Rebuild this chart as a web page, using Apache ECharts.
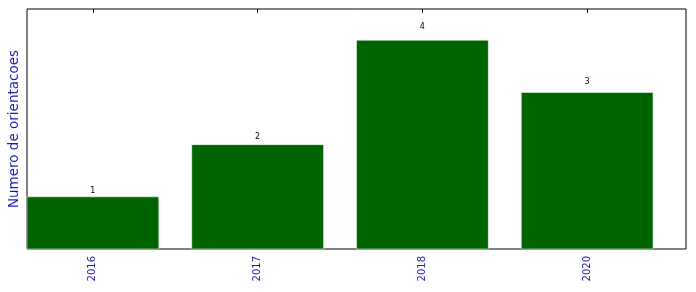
<!DOCTYPE html>
<html><head><meta charset="utf-8">
<script src="https://cdn.jsdelivr.net/npm/echarts@6/dist/echarts.min.js"></script>
<style>html,body{margin:0;padding:0;background:#fff}#c{width:696px;height:292px}</style>
</head><body><div id="c"></div>
<script>
var categories = ['2016', '2017', '2018', '2020'];
var values = [1, 2, 4, 3];
var tickPositions = [0.4, 1.4, 2.4, 3.4];

var chart = echarts.init(document.getElementById('c'), null, {renderer: 'canvas'});
var data = values.map(function (v, i) { return [i, v]; });
var font = 'DejaVu Sans';
chart.setOption({
  animation: false,
  grid: {left: 27, right: 10, top: 9, bottom: 43, show: true, borderColor: '#000', borderWidth: 1,
    containLabel: false, outerBoundsMode: 'none'},
  xAxis: [{
    type: 'value', min: 0, max: 4, position: 'bottom',
    axisLine: {show: false}, splitLine: {show: false},
    axisTick: {show: true, inside: true, length: 4, lineStyle: {color: '#000'}, customValues: tickPositions},
    axisLabel: {show: true, rotate: 90, color: '#1a1ab4', fontFamily: font, fontSize: 10, margin: 7,
      customValues: tickPositions,
      formatter: function (v) { return categories[Math.round(v - 0.4)]; }}
  }, {
    type: 'value', min: 0, max: 4, position: 'top',
    axisLine: {show: false}, splitLine: {show: false},
    axisTick: {show: true, inside: true, length: 4, lineStyle: {color: '#000'}, customValues: tickPositions},
    axisLabel: {show: false}
  }],
  yAxis: {
    type: 'value', min: 0, max: 4.6,
    name: 'Numero de orientacoes', nameLocation: 'middle', nameGap: 6,
    nameTextStyle: {color: '#1a1ab4', fontFamily: font, fontSize: 13.5},
    axisLine: {show: false}, axisTick: {show: false}, axisLabel: {show: false}, splitLine: {show: false}
  },
  series: [{
    type: 'custom',
    data: data,
    renderItem: function (params, api) {
      var x = api.value(0), v = api.value(1);
      var p0 = api.coord([x, 0]);
      var p1 = api.coord([x + 0.8, v]);
      var pl = api.coord([x + 0.4, v * 1.05]);
      return {
        type: 'group',
        children: [{
          type: 'rect',
          shape: {x: p0[0], y: p1[1], width: p1[0] - p0[0], height: p0[1] - p1[1]},
          style: {fill: '#006400', stroke: '#ffffff', lineWidth: 0.5}
        }, {
          type: 'text',
          style: {text: String(v), x: pl[0], y: pl[1] + 1,
            align: 'center', verticalAlign: 'bottom', fill: '#000', font: '8px "DejaVu Sans"'}
        }]
      };
    }
  }]
});
</script></body></html>
